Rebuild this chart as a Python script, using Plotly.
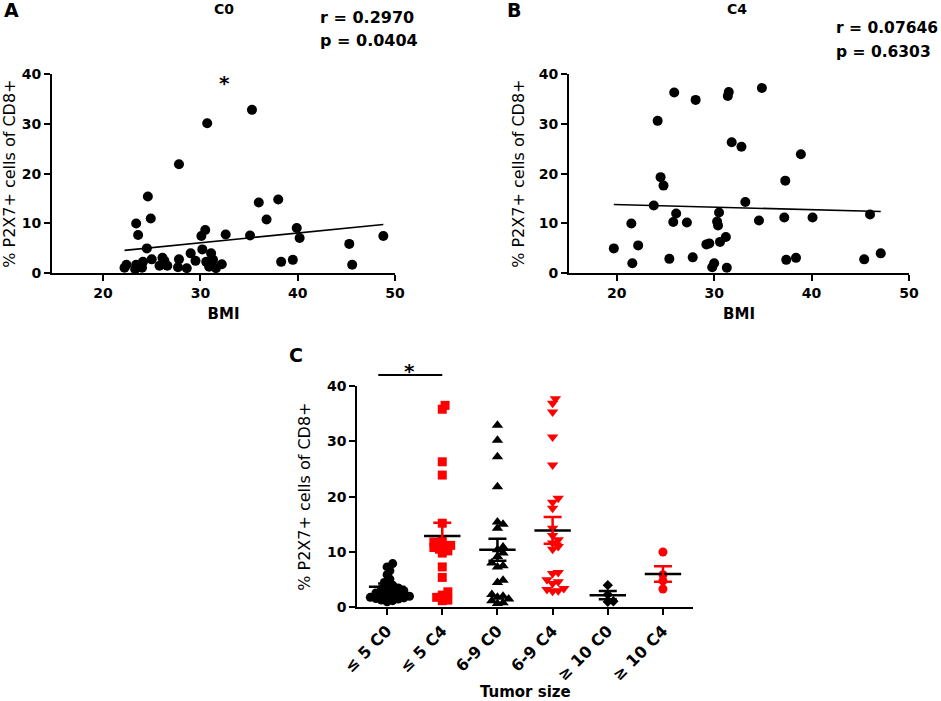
import numpy as np
import plotly.graph_objects as go

W, H = 941, 701

# ---- panel A: C0, BMI vs % P2X7+ of CD8+
bmi_c0 = [35.3, 30.7, 27.8, 24.6, 24.9, 23.4, 23.6, 24.5, 36.0, 38.0, 36.8, 39.9,
          40.2, 35.1, 32.6, 30.5, 30.1, 30.2, 31.1, 45.3, 45.6, 48.8, 38.3, 39.5,
          29.0, 29.5, 28.6, 27.8, 27.7, 26.1, 26.6, 25.8, 26.3, 25.0, 24.1, 24.0,
          23.4, 23.3, 22.4, 22.2, 30.6, 31.3, 30.9, 31.6, 32.2]
p2x7_c0 = [32.8, 30.1, 21.9, 15.4, 11.0, 10.0, 7.7, 5.0, 14.2, 14.8, 10.8, 9.1,
           7.1, 7.6, 7.8, 8.7, 7.5, 4.8, 4.0, 5.9, 1.7, 7.5, 2.3, 2.7,
           4.0, 2.5, 1.0, 2.8, 1.2, 3.1, 1.5, 1.5, 2.5, 2.8, 2.3, 1.1,
           1.7, 0.8, 1.7, 1.1, 2.3, 2.7, 1.3, 1.0, 1.8]
fit_c0_x = [22.2, 48.8]
fit_c0_y = [4.6, 9.8]

# ---- panel B: C4
bmi_c4 = [19.7, 21.5, 21.6, 22.2, 23.8, 24.2, 24.5, 24.8, 25.9, 25.4, 25.8, 26.1,
          27.2, 27.8, 28.1, 29.2, 29.5, 29.8, 30.0, 30.3, 30.4, 30.5, 30.6, 31.2,
          31.3, 31.5, 31.4, 31.8, 32.8, 33.2, 34.6, 34.9, 37.2, 37.3, 37.4, 38.4,
          38.9, 40.1, 45.4, 46.0, 47.1]
p2x7_c4 = [5.0, 10.0, 2.0, 5.6, 13.6, 30.6, 19.3, 17.6, 36.3, 2.9, 10.3, 12.0,
           10.2, 3.2, 34.8, 5.8, 6.0, 1.2, 2.0, 10.4, 9.6, 12.2, 6.3, 7.3,
           1.1, 36.4, 35.6, 26.3, 25.4, 14.3, 10.6, 37.2, 11.2, 18.6, 2.7, 3.1,
           23.9, 11.2, 2.8, 11.8, 4.0]
fit_c4_x = [19.7, 47.1]
fit_c4_y = [13.8, 12.4]

# ---- panel C: tumour size groups
groups = ["≤ 5 C0", "≤ 5 C4", "6-9 C0", "6-9 C4", "≥ 10 C0", "≥ 10 C4"]
le5_c0 = [7.9, 7.3, 6.6, 5.9, 5.1, 4.5, 4.0, 3.8, 3.5, 3.3, 3.1, 3.0, 2.8, 2.6,
          2.5, 2.3, 2.2, 2.0, 1.9, 1.8, 1.7, 1.6, 1.5, 1.3, 1.2, 1.0]
le5_c4 = [36.5, 35.8, 26.3, 23.9, 15.2, 12.2, 11.8, 11.5, 11.2, 11.0, 10.8, 10.5,
          10.2, 9.8, 7.3, 5.4, 2.8, 2.2, 1.8, 1.3, 1.2]
s69_c0 = [32.9, 30.2, 27.2, 21.8, 15.4, 15.0, 14.3, 10.9, 10.4, 9.8, 9.2, 8.0,
          7.5, 7.3, 4.9, 4.5, 2.3, 2.0, 1.8, 1.5, 1.2, 0.8, 0.7]
s69_c4 = [37.7, 36.9, 35.3, 30.8, 25.7, 19.7, 19.0, 17.9, 14.3, 13.0, 12.2, 11.6,
          11.0, 10.5, 6.3, 6.1, 5.0, 4.6, 4.3, 3.4, 3.2, 3.0, 2.9]
ge10_c0 = [4.0, 2.3, 1.1, 1.0]
ge10_c4 = [10.0, 5.9, 4.8, 3.3]
group_means = [3.7, 12.9, 10.4, 13.9, 2.2, 6.0]
group_sems = [0.6, 2.4, 2.0, 2.4, 0.75, 1.4]

RED = "#ff0000"
FONT = "DejaVu Sans"


def px(x):
    return x / W


def py(y):
    return 1 - y / H


dom_a_x = [px(52), px(395)]
dom_b_x = [px(569), px(909)]
dom_ab_y = [py(273.3), py(74)]
dom_c_x = [px(357.3), px(693.3)]
dom_c_y = [py(607.3), py(386)]
c_range_x = [-0.54, 5.55]
c_range_y = [0, 40]


def swarm(values, center, marker_px, step_px=2.8, overlap=0.5):
    # simple beeswarm: push points sideways until they only partly overlap
    y_scale = (dom_c_y[1] - dom_c_y[0]) * H / (c_range_y[1] - c_range_y[0])
    x_scale = (dom_c_x[1] - dom_c_x[0]) * W / (c_range_x[1] - c_range_x[0])
    placed = []
    xs = []
    for v in sorted(values):
        yp = v * y_scale
        k = 0
        while True:
            cand = ((k + 1) // 2) * step_px * (1 if k % 2 else -1) if k else 0.0
            if all((cand - a) ** 2 + (yp - b) ** 2 >= (marker_px * overlap) ** 2 for a, b in placed):
                break
            k += 1
        placed.append((cand, yp))
        xs.append(center + cand / x_scale)
    return xs, sorted(values)


fig = go.Figure()

# scatter A / B
fig.add_trace(go.Scatter(x=bmi_c0, y=p2x7_c0, mode="markers", xaxis="x", yaxis="y",
                         marker=dict(color="black", size=10)))
fig.add_trace(go.Scatter(x=fit_c0_x, y=fit_c0_y, mode="lines", xaxis="x", yaxis="y",
                         line=dict(color="black", width=1.6)))
fig.add_trace(go.Scatter(x=bmi_c4, y=p2x7_c4, mode="markers", xaxis="x2", yaxis="y2",
                         marker=dict(color="black", size=10)))
fig.add_trace(go.Scatter(x=fit_c4_x, y=fit_c4_y, mode="lines", xaxis="x2", yaxis="y2",
                         line=dict(color="black", width=1.6)))

# dot plot C
series = [le5_c0, le5_c4, s69_c0, s69_c4, ge10_c0, ge10_c4]
symbols = ["circle", "square", "triangle-up", "triangle-down", "diamond", "circle"]
colors = ["black", RED, "black", RED, "black", RED]
sizes = [9, 9, 10, 10, 8, 9]
for i, vals in enumerate(series):
    xs, ys = swarm(vals, i, sizes[i])
    fig.add_trace(go.Scatter(x=xs, y=ys, mode="markers", xaxis="x3", yaxis="y3",
                             marker=dict(symbol=symbols[i], color=colors[i], size=sizes[i]),
                             cliponaxis=False))

mx, my = [], []
for i, m in enumerate(group_means):
    mx += [i - 0.33, i + 0.33, None]
    my += [m, m, None]
fig.add_trace(go.Scatter(x=mx, y=my, mode="lines", xaxis="x3", yaxis="y3",
                         line=dict(color="black", width=2.5)))
for col, idx in (("black", [0, 2, 4]), (RED, [1, 3, 5])):
    fig.add_trace(go.Scatter(
        x=idx, y=[group_means[i] for i in idx], mode="markers", xaxis="x3", yaxis="y3",
        marker=dict(size=1, color=col, opacity=0),
        error_y=dict(type="data", array=[group_sems[i] for i in idx], color=col,
                     thickness=2.5, width=9)))

axis_common = dict(showline=True, linecolor="black", linewidth=2, ticks="outside",
                   ticklen=6, tickwidth=2, tickcolor="black", showgrid=False,
                   zeroline=False, automargin=False)
tick_font = dict(family=FONT, size=14, color="black", weight="bold")
title_bold = dict(family=FONT, size=15, color="black", weight="bold")
title_y = dict(family=FONT, size=16, color="black")

fig.update_layout(
    width=W, height=H, margin=dict(l=0, r=0, t=0, b=0),
    paper_bgcolor="white", plot_bgcolor="white", showlegend=False,
    font=dict(family=FONT, color="black"),
    xaxis=dict(domain=dom_a_x, anchor="y", range=[14.75, 50], tickvals=[20, 30, 40, 50],
               tickfont=tick_font,
               title=dict(text="BMI", font=title_bold, standoff=8), **axis_common),
    yaxis=dict(domain=dom_ab_y, anchor="x", range=[0, 40], tickvals=[0, 10, 20, 30, 40],
               tickfont=tick_font,
               title=dict(text="% P2X7+ cells of CD8+", font=title_y, standoff=10), **axis_common),
    xaxis2=dict(domain=dom_b_x, anchor="y2", range=[15.1, 50], tickvals=[20, 30, 40, 50],
                tickfont=tick_font,
                title=dict(text="BMI", font=title_bold, standoff=8), **axis_common),
    yaxis2=dict(domain=dom_ab_y, anchor="x2", range=[0, 40], tickvals=[0, 10, 20, 30, 40],
                tickfont=tick_font,
                title=dict(text="% P2X7+ cells of CD8+", font=title_y, standoff=10), **axis_common),
    xaxis3=dict(domain=dom_c_x, anchor="y3", range=c_range_x, tickvals=list(range(6)),
                ticktext=groups, tickangle=-45,
                tickfont=dict(family=FONT, size=16, color="black", weight="bold"),
                title=dict(text="Tumor size", font=title_bold, standoff=6), **axis_common),
    yaxis3=dict(domain=dom_c_y, anchor="x3", range=c_range_y, tickvals=[0, 10, 20, 30, 40],
                tickfont=tick_font,
                title=dict(text="% P2X7+ cells of CD8+", font=title_y, standoff=12), **axis_common),
)

ann = [
    ("A", 2, 10, 19, "left"), ("B", 505, 10, 19, "left"), ("C", 287, 355, 19, "left"),
    ("C0", 224, 9, 14, "center"), ("C4", 737, 9, 14, "center"),
    ("r = 0.2970", 318, 17, 16, "left"), ("p = 0.0404", 318, 40, 16, "left"),
    ("r = 0.07646", 834, 28, 15.5, "left"), ("p = 0.6303", 834, 52, 15.5, "left"),
    ("*", 224, 83, 20, "center"),
]
for text, x, y, size, xa in ann:
    fig.add_annotation(text="<b>%s</b>" % text, x=px(x), y=py(y), xref="paper", yref="paper",
                       xanchor=xa, yanchor="middle", showarrow=False,
                       font=dict(family=FONT, size=size, color="black"))

# significance bar between the two <=5 groups
fig.add_shape(type="line", xref="x3", yref="y3 domain", x0=-0.16, x1=1.0, y0=1.05, y1=1.05,
              line=dict(color="black", width=2))
fig.add_annotation(text="<b>*</b>", x=0.4, y=1.13, xref="x3", yref="y3 domain",
                   showarrow=False, font=dict(family=FONT, size=20, color="black"))

# drop the page's default body margin so the figure fills the window exactly
fig.write_html("out.html", config={"displayModeBar": False},
               post_script="document.body.style.margin='0';")
